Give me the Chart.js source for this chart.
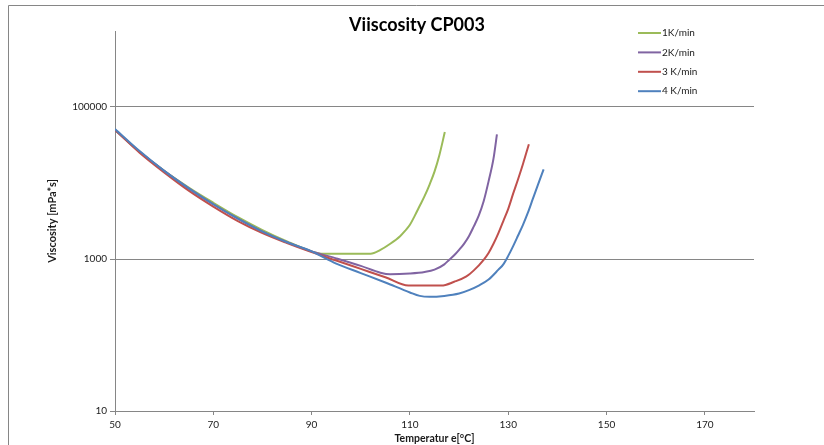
<!DOCTYPE html>
<html>
<head>
<meta charset="utf-8">
<script src="https://cdn.jsdelivr.net/npm/chart.js@4"></script>
<style>
  html, body { margin: 0; padding: 0; background: #fff; }
  #wrap { position: relative; width: 824px; height: 445px; }
</style>
</head>
<body>
<div id="wrap"><canvas id="chart" width="824" height="445"></canvas></div>
<script>
// Data (temperature in °C, viscosity in mPa*s)
const labels = ['1K/min', '2K/min', '3 K/min', '4 K/min'];
const colors = ['#9BBB59', '#8064A2', '#C0504D', '#4F81BD'];

const temp1 = [50, 55, 60, 65, 70, 75, 80, 85, 90, 92, 102, 104, 106, 108, 109, 110, 111, 112, 113, 114, 115, 116, 117.1];
const visc1 = [50000, 25700, 14450, 8710, 5500, 3550, 2400, 1700, 1260, 1175, 1175, 1318, 1585, 1995, 2340, 2820, 3720, 5010, 6760, 9550, 14100, 23400, 46800];

const temp2 = [50, 55, 60, 65, 70, 75, 80, 85, 90, 95, 100, 104, 106, 110, 113, 115, 117, 118, 119, 120, 121, 122, 123, 124, 125, 126, 127, 127.7];
const visc2 = [50000, 25700, 14450, 8510, 5250, 3390, 2290, 1660, 1260, 1020, 813, 661, 631, 646, 676, 724, 851, 977, 1120, 1320, 1585, 1995, 2690, 3720, 5750, 10500, 20900, 43650];

const temp3 = [50, 55, 60, 65, 70, 75, 80, 85, 90, 95, 100, 105, 109.7, 116.4, 119, 121.5, 123, 125, 126, 127, 128, 129, 130, 131, 132, 133, 134.2];
const visc3 = [50000, 25100, 13800, 7940, 4900, 3160, 2190, 1620, 1230, 955, 741, 575, 447, 447, 501, 589, 708, 977, 1200, 1585, 2190, 3160, 4570, 7240, 11200, 17800, 32400];

const temp4 = [50, 55, 60, 65, 70, 75, 80, 85, 90, 95, 100, 105, 110, 112, 114, 117, 120, 122, 124, 126, 128, 129, 130, 131, 132, 133, 134, 135, 136, 137.2];
const visc4 = [51300, 26300, 14450, 8510, 5250, 3390, 2290, 1660, 1260, 871, 653, 490, 363, 327, 318, 327, 351, 389, 447, 537, 724, 851, 1100, 1480, 2040, 2820, 4070, 6170, 9330, 15100];

const xTicks = [50, 70, 90, 110, 130, 150, 170];
const yTicks = [10, 1000, 100000];

const temps = [temp1, temp2, temp3, temp4];
const viscs = [visc1, visc2, visc3, visc4];

const chartTitle = 'Viiscosity CP003';
const axisGrey = '#868686';
const textCol = '#1a1a1a';

// frame around the chart (only left and top edges are visible in the crop)
const framePlugin = {
  id: 'frame',
  beforeDraw(chart) {
    const ctx = chart.ctx;
    ctx.save();
    ctx.strokeStyle = axisGrey;
    ctx.lineWidth = 1;
    ctx.beginPath();
    ctx.moveTo(8.5, chart.height + 2);
    ctx.lineTo(8.5, 5.5);
    ctx.lineTo(chart.width + 2, 5.5);
    ctx.stroke();
    ctx.restore();
  }
};

// title centred on the whole picture, overlapping the plot top a bit
const titlePlugin = {
  id: 'freeTitle',
  afterDraw(chart) {
    const ctx = chart.ctx;
    ctx.save();
    ctx.font = 'bold 18px Lato, "Open Sans", sans-serif';
    ctx.fillStyle = '#000';
    ctx.textAlign = 'center';
    ctx.textBaseline = 'middle';
    ctx.fillText(chartTitle, chart.width / 2 + 5, chart.chartArea.top - 6);
    ctx.restore();
  }
};

// legend drawn inside the plot, upper right
const legendPlugin = {
  id: 'innerLegend',
  afterDraw(chart) {
    const ctx = chart.ctx;
    const area = chart.chartArea;
    const x0 = area.right - 116;
    ctx.save();
    ctx.font = '10px Lato, "Open Sans", sans-serif';
    ctx.textBaseline = 'middle';
    chart.data.datasets.forEach((ds, i) => {
      const y = area.top + 2 + i * 19.4;
      ctx.strokeStyle = ds.borderColor;
      ctx.lineWidth = 2;
      ctx.beginPath();
      ctx.moveTo(x0, y);
      ctx.lineTo(x0 + 23, y);
      ctx.stroke();
      ctx.fillStyle = textCol;
      ctx.fillText(ds.label, x0 + 24, y);
    });
    ctx.restore();
  }
};

new Chart(document.getElementById('chart'), {
  type: 'line',
  data: {
    datasets: labels.map((name, i) => ({
      label: name,
      data: temps[i].map((t, k) => ({x: t, y: viscs[i][k]})),
      borderColor: colors[i],
      backgroundColor: colors[i],
      borderWidth: 2,
      pointRadius: 0,
      cubicInterpolationMode: 'monotone',
      order: labels.length - i
    }))
  },
  options: {
    responsive: false,
    animation: false,
    layout: { padding: { left: 0, right: 70, top: 31, bottom: 0 } },
    plugins: {
      legend: { display: false },
      tooltip: { enabled: false },
      title: { display: false }
    },
    scales: {
      x: {
        type: 'linear',
        min: 50,
        max: 180,
        afterBuildTicks: s => { s.ticks = xTicks.map(v => ({value: v})); },
        afterFit: s => { s.height = 34; },
        grid: { drawOnChartArea: false, drawTicks: true, tickLength: 4, color: axisGrey },
        border: { color: axisGrey },
        ticks: {
          color: textCol,
          font: { family: 'Lato', size: 10 },
          padding: 4,
          maxRotation: 0,
          callback: v => String(v)
        },
        title: {
          display: true,
          text: 'Temperatur e[°C]',
          color: textCol,
          font: { family: 'Lato', size: 10.5, weight: 'bold' },
          padding: { top: 0, bottom: 0 }
        }
      },
      y: {
        type: 'logarithmic',
        min: 10,
        max: 1000000,
        afterBuildTicks: s => { s.ticks = yTicks.map(v => ({value: v})); },
        afterFit: s => { s.width = 115; },
        grid: { drawOnChartArea: true, drawTicks: true, tickLength: 5, color: axisGrey },
        border: { color: axisGrey },
        ticks: {
          color: textCol,
          font: { family: 'Lato', size: 10 },
          padding: 3,
          callback: v => String(v)
        },
        title: {
          display: true,
          text: 'Viscosity [mPa*s]',
          color: textCol,
          font: { family: 'Lato', size: 11, weight: 'bold' },
          padding: { top: 46, bottom: 0 }
        }
      }
    }
  },
  plugins: [framePlugin, titlePlugin, legendPlugin]
});
</script>
</body>
</html>
